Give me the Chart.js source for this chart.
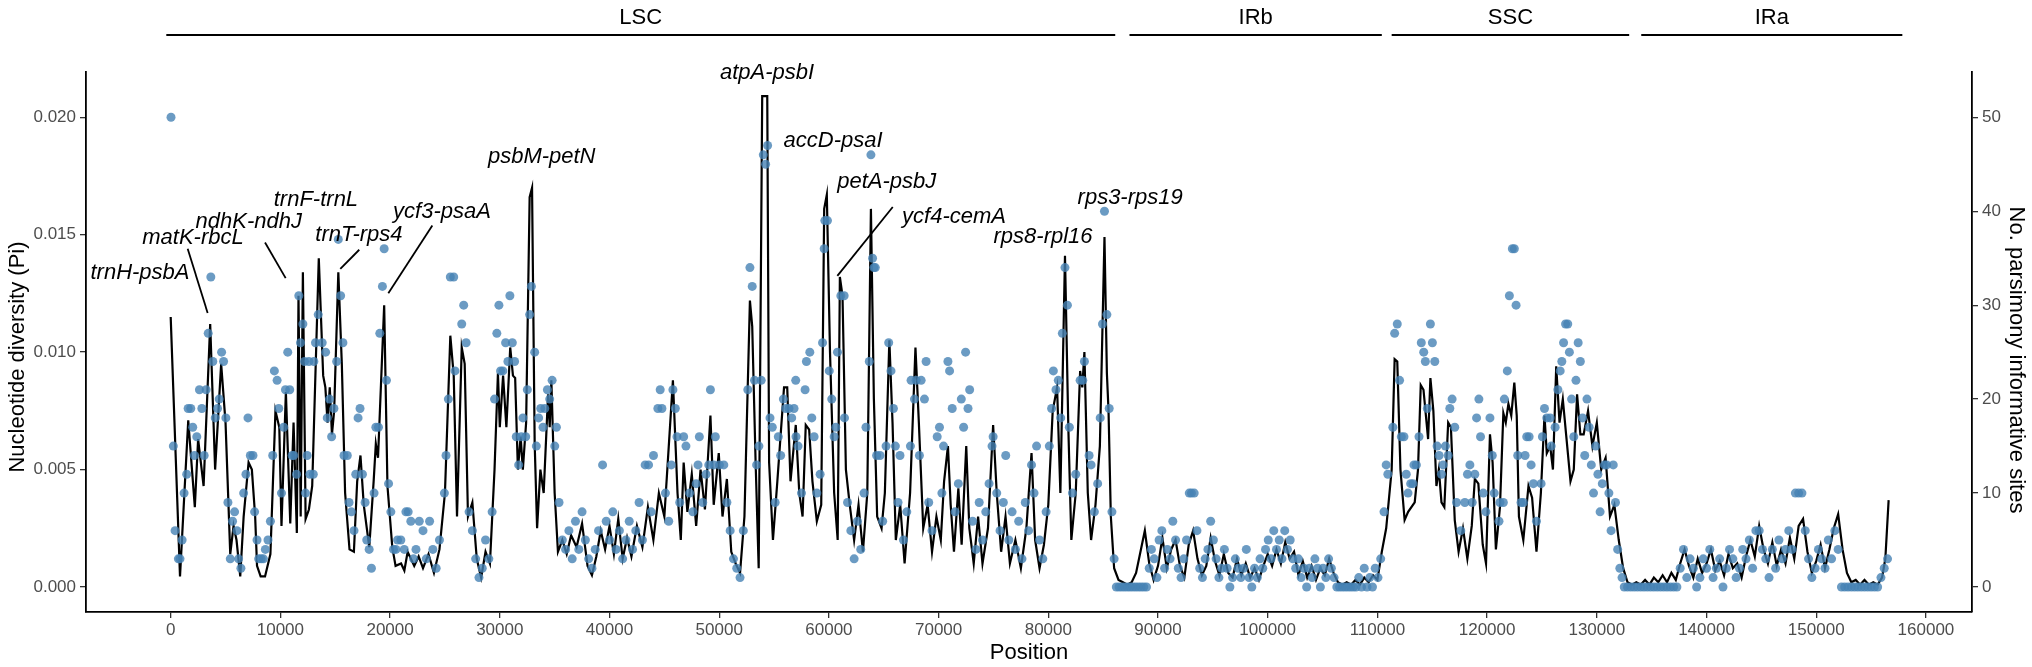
<!DOCTYPE html>
<html>
<head>
<meta charset="utf-8">
<title>Nucleotide diversity</title>
<script src="https://cdn.jsdelivr.net/npm/chart.js@4.4.1/dist/chart.umd.min.js"></script>
<style>
  html, body { margin: 0; padding: 0; background: #fff; }
  #wrap { width: 2032px; height: 667px; }
</style>
</head>
<body>
<div id="wrap"><canvas id="piChart" width="2032" height="667"></canvas></div>
<script>
// =============================================
// DATA: nucleotide diversity (Pi), [position, Pi]
// =============================================
const piLSC = [
  [0,0.0115],[850,0.00045],[1600,0.0071],[2200,0.0034],[2500,0.0063],[3000,0.0043],[3600,0.0112],
  [4050,0.0050],[4600,0.0095],[5000,0.0070],[5430,0.0014],[5730,0.0026],[6000,0.0020],[6340,0.00045],
  [6650,0.0030],[7100,0.0053],[7400,0.0050],[7700,0.0030],[7870,0.0009],[8200,0.00045],[8600,0.00045],
  [9090,0.0014],[9550,0.0075],[9900,0.0068],[10100,0.0026],[10500,0.0083],[10900,0.0027],[11200,0.0070],
  [11500,0.0023],[11650,0.0124],[11850,0.0030],[12050,0.0134],[12300,0.0029],[12600,0.0033],[12900,0.0043],
  [13500,0.0140],[13900,0.0090],[14100,0.0085],[14300,0.0070],[14500,0.0085],[14700,0.0065],[14900,0.0075],
  [15280,0.0134],[15600,0.0095],[15900,0.0040],[16300,0.0016],[16700,0.0015],[17000,0.0045],[17300,0.0056],
  [17600,0.0035],[18100,0.0017],[18500,0.0045],[18700,0.0061],[18900,0.0055],[19460,0.0120],[19760,0.0043],
  [20200,0.0017],[20500,0.0009],[21000,0.0010],[21300,0.0007],[21600,0.0015],[22200,0.0009],[22600,0.0013],
  [23000,0.0008],[23500,0.0014],[24000,0.0006],[24500,0.0016],[25000,0.0040],[25490,0.0107],[25800,0.0090],
  [26100,0.0030],[26530,0.0102],[26800,0.0095],[27100,0.0030],[27500,0.0036],[27900,0.0012],[28300,0.0004],
  [28700,0.0015],[29100,0.0010],[29520,0.0050],[29830,0.0091],[30000,0.0068],[30300,0.0090],[30600,0.0068],
  [30950,0.0102],[31200,0.0090],[31400,0.0089],[31650,0.0050],[31900,0.0064],[32100,0.0050],[32400,0.0070],
  [32720,0.0166],[32940,0.0170],[33180,0.0061],[33400,0.0025],[33700,0.0050],[34000,0.0040],[34400,0.0082],
  [34550,0.0068],[34700,0.0088],[35000,0.0040],[35300,0.0015],[35700,0.0020],[36100,0.0014],[36500,0.0022],
  [37000,0.0017],[37500,0.0027],[38000,0.0009],[38400,0.0005],[38800,0.0013],[39200,0.0024],[39600,0.0016],
  [40000,0.0026],[40400,0.0014],[40800,0.0029],[41200,0.0012],[41600,0.0021],[42000,0.0013],[42500,0.0026],
  [43000,0.0017],[43500,0.0034],[44000,0.0020],[44500,0.0040],[45000,0.0030],[45780,0.0088],[46200,0.0040],
  [46500,0.0020],[46760,0.0053],[47100,0.0032],[47500,0.0048],[47900,0.0026],[48300,0.0050],[48700,0.0033],
  [49200,0.0073],[49500,0.0035],[49960,0.0057],[50300,0.0030],[50700,0.0046],[51100,0.0015],[51500,0.0010],
  [51900,0.0006],[52300,0.0030],[52800,0.0122],[53010,0.0111],[53320,0.0053],[53600,0.0008],[53920,0.0209],
  [54380,0.0209],[54550,0.0053],[54900,0.0020],[55300,0.0045],[55910,0.0085],[56200,0.0085],[56500,0.0045],
  [56980,0.0069],[57300,0.0040],[57600,0.0030],[57890,0.0069],[58200,0.0067],[58500,0.0045],[58900,0.0028],
  [59300,0.0035],[59570,0.0161],[59810,0.0167],[60100,0.0100],[60480,0.0040],[60800,0.0020],[61000,0.0132],
  [61240,0.0124],[61550,0.0050],[61900,0.0035],[62300,0.0020],[62700,0.0035],[63100,0.0015],[63500,0.0040],
  [63830,0.0161],[64100,0.0080],[64400,0.0030],[64800,0.0025],[65100,0.0040],[65510,0.0105],[65800,0.0070],
  [66100,0.0020],[66500,0.0035],[66900,0.0010],[67400,0.0040],[67890,0.0102],[68200,0.0070],[68600,0.0025],
  [69000,0.0035],[69400,0.0015],[69800,0.0030],[70200,0.0020],[70500,0.0045],[70850,0.0060],[71100,0.0035],
  [71400,0.0015],[71800,0.0042],[72100,0.0018],[72520,0.0060],[72800,0.0025],[73200,0.0010],[73600,0.0030],
  [74000,0.0010],[74500,0.0025],[74970,0.0069],[75300,0.0040],[75700,0.0015],[76100,0.0030],[76500,0.0010],
  [77000,0.0020],[77500,0.0008],[78000,0.0025],[78470,0.0057],[78800,0.0020],[79200,0.0008],[79600,0.0018],
  [80000,0.0035],[80400,0.0075],[80800,0.0085],[81100,0.0040],[81520,0.0141],[81830,0.0067],[82100,0.0020],
  [82500,0.0040],[82900,0.0092],[83100,0.0085],[83290,0.0100],[83600,0.0040],[83900,0.0020],[84300,0.0035],
  [84700,0.0060],[85120,0.0149],[85340,0.0091],[85490,0.0075],[85700,0.0030],[86000,0.0008]
];
const piIRb = [
  [86400,0.0003],[86800,0.0002],[87200,0.0001],[87600,0.0002],[88000,0.0006],[88400,0.0015],[88800,0.0024],
  [89200,0.0010],[89600,0.0003],[90000,0.0009],[90400,0.0021],[90800,0.0008],[91200,0.0016],[91600,0.0020],
  [92000,0.0009],[92400,0.0004],[92800,0.0018],[93200,0.0024],[93600,0.0012],[94000,0.0005],[94400,0.0009],
  [94800,0.0021],[95200,0.0011],[95600,0.0005],[96000,0.0014],[96400,0.0006],[96800,0.0004],[97200,0.0012],
  [97600,0.0005],[98000,0.0010],[98400,0.0004],[98800,0.0008],[99200,0.0003],[99600,0.0009],[100000,0.0014],
  [100400,0.0009],[100800,0.0016],[101200,0.0010],[101600,0.0019],[102000,0.0012],[102400,0.0015],[102800,0.0005],
  [103200,0.0011],[103600,0.0004],[104000,0.0009],[104400,0.0003],[104800,0.0008],[105200,0.0005],[105600,0.0012],
  [106000,0.0006],[106400,0.0002],[106800,0.0001],[107200,0.0002],[107600,0.0001],[108000,0.0003],[108400,0.0001],
  [108800,0.0004],[109200,0.0002],[109600,0.0005],[110000,0.0003],[110400,0.0015]
];
const piSSC = [
  [110800,0.0025],[111300,0.0050],[111570,0.0097],[111810,0.0096],[112100,0.0050],[112480,0.00285],[112800,0.0032],
  [113400,0.0036],[113700,0.0050],[113950,0.0086],[114200,0.0084],[114620,0.0063],[114830,0.0089],[115100,0.0075],
  [115380,0.0043],[115600,0.0050],[115840,0.0036],[116100,0.0034],[116450,0.0070],[116700,0.0068],[117050,0.00285],
  [117400,0.0015],[117800,0.0025],[118200,0.0012],[118600,0.0026],[118880,0.0046],[119200,0.0044],[119600,0.0018],
  [119900,0.0010],[120260,0.0065],[120500,0.0053],[120800,0.0016],[121170,0.0034],[121480,0.0074],[121700,0.0070],
  [121940,0.0078],[122200,0.0073],[122480,0.0087],[122700,0.0073],[122900,0.0030],[123300,0.0020],[123770,0.0043],
  [124100,0.0038],[124500,0.0015],[124900,0.0040],[125230,0.0073],[125440,0.0057],[125750,0.0060],[126000,0.0050],
  [126300,0.0094],[126600,0.0070],[126900,0.0080],[127200,0.0065],[127600,0.0045],[127900,0.0050],[128200,0.0082],
  [128500,0.0065],[128800,0.0065],[129200,0.0075],[129600,0.0060],[130000,0.0070],[130400,0.0050],[130800,0.0055],
  [131200,0.0030],[131600,0.0035],[132000,0.0020],[132400,0.0008],[132800,0.0002]
];
const piIRa = [
  [133200,0.0001],[133600,0.0002],[134000,0.0001],[134400,0.0003],[134800,0.0001],[135200,0.0004],[135600,0.0002],
  [136000,0.0005],[136400,0.0002],[136800,0.0006],[137200,0.0003],[137600,0.0010],[138000,0.0016],[138400,0.0009],
  [138800,0.0004],[139200,0.0012],[139600,0.0006],[140000,0.0010],[140400,0.0016],[140800,0.0007],[141200,0.0011],
  [141600,0.0005],[142000,0.0014],[142400,0.0008],[142800,0.0010],[143200,0.0004],[143600,0.0013],[144000,0.0020],
  [144400,0.0013],[144800,0.0026],[145200,0.0016],[145600,0.0010],[146000,0.0019],[146400,0.0009],[146800,0.0016],
  [147200,0.0010],[147600,0.0021],[148000,0.0012],[148400,0.0026],[148800,0.0029],[149200,0.0015],[149600,0.0006],
  [150000,0.0011],[150400,0.0018],[150800,0.0008],[151200,0.0016],[151600,0.0025],[152000,0.0031],[152400,0.0016],
  [152800,0.0006],[153200,0.0002],[153600,0.0003],[154000,0.0001],[154400,0.0003],[154800,0.0001],[155200,0.0002],
  [155600,0.0001],[156000,0.0004],[156300,0.0012],[156600,0.0037]
];

// =============================================
// DATA: parsimony informative sites, [position, count]
// =============================================
const pisLSC = [
  [30,50],[240,15],[400,6],[700,3],[850,3],[1040,5],[1220,10],[1460,12],[1590,19],[1830,19],[2010,17],[2160,14],
  [2380,16],[2620,21],[2840,19],[3050,14],[3230,21],[3420,27],[3660,33],[3840,24],[4060,18],[4270,19],[4420,20],
  [4640,25],[4820,24],[5030,18],[5215,9],[5430,3],[5640,7],[5825,8],[6040,6],[6190,3],[6400,2],[6650,10],[6860,12],
  [7045,18],[7260,14],[7500,14],[7650,8],[7870,5],[8020,3],[8250,3],[8450,3],[8630,4],[8870,5],[9090,7],[9300,14],
  [9450,23],[9700,22],[9850,19],[10100,10],[10300,17],[10460,21],[10670,25],[10850,21],[11070,14],[11220,14],
  [11470,12],[11680,31],[11830,26],[12050,28],[12200,24],[12290,10],[12440,14],[12600,24],[12690,12],[13000,12],
  [13050,24],[13200,26],[13450,29],[13810,26],[14120,25],[14270,18],[14480,20],[14670,16],[14880,19],[15130,24],
  [15280,37],[15490,31],[15700,26],[15800,14],[16100,14],[16260,9],[16470,8],[16710,6],[16870,12],[17080,18],
  [17260,19],[17480,12],[17720,9],[17870,5],[18090,4],[18300,2],[18540,10],[18700,17],[18940,17],[19060,27],
  [19300,32],[19460,36],[19670,22],[19860,11],[20070,8],[20310,4],[20530,4],[20680,5],[20980,5],[21290,4],
  [21440,8],[21650,8],[21890,7],[22140,3],[22360,4],[22660,7],[23000,6],[23300,3],[23600,7],[23900,4],[24200,2],
  [24500,5],[24950,10],[25100,14],[25310,20],[25490,33],[25800,33],[25920,23],[26530,28],[26710,30],[26930,26],
  [27200,8],[27500,6],[27800,3],[28100,1],[28400,2],[28700,5],[29000,3],[29300,8],[29520,20],[29730,27],[29920,30],
  [30070,23],[30280,23],[30530,26],[30740,24],[30920,31],[31140,26],[31350,24],[31500,16],[31720,13],[31960,16],
  [32110,18],[32360,16],[32510,21],[32720,29],[32880,32],[33180,25],[33330,15],[33540,18],[33730,19],[33940,17],
  [34100,19],[34340,21],[34550,20],[34770,22],[35010,15],[35160,17],[35400,9],[35700,5],[36000,4],[36300,6],
  [36600,3],[36900,7],[37200,4],[37500,8],[37800,5],[38100,3],[38400,2],[38700,4],[39000,6],[39370,13],[39700,7],
  [40000,5],[40300,8],[40600,4],[40900,6],[41200,3],[41500,5],[41800,7],[42100,4],[42400,6],[42700,9],[43000,5],
  [43250,13],[43560,13],[43800,8],[44010,14],[44410,19],[44620,21],[44780,19],[45100,10],[45400,7],[45630,13],
  [45780,21],[46000,19],[46150,16],[46400,9],[46760,16],[46970,15],[47300,10],[47600,8],[47900,11],[48070,13],
  [48190,16],[48500,9],[48800,12],[49050,13],[49200,21],[49500,13],[49650,16],[50020,13],[50420,13],[50700,9],
  [51000,6],[51300,3],[51600,2],[51900,1],[52200,6],[52610,21],[52800,34],[53010,32],[53220,22],[53410,13],
  [53620,15],[53830,22],[54020,46],[54230,45],[54410,47],[54630,18],[54840,17],[55100,9],[55390,16],[55600,14],
  [55850,20],[56060,19],[56360,19],[56610,18],[56820,19],[56975,22],[57000,16],[57190,15],[57500,10],[57830,21],
  [57950,24],[58260,25],[58440,18],[58650,16],[58900,10],[59200,12],[59420,26],[59570,36],[59630,39],[59870,39],
  [60030,23],[60260,20],[60480,16],[60630,17],[60780,25],[61090,31],[61390,31],[61420,18],[61700,9],[62000,6],
  [62300,3],[62600,7],[62900,4],[63200,10],[63380,17],[63680,24],[63830,46],[63980,35],[64100,34],[64230,34],
  [64350,14],[64660,14],[64900,7],[65210,15],[65450,26],[65660,23],[65880,19],[66060,15],[66300,9],[66480,14],
  [66800,5],[67100,8],[67430,15],[67490,22],[67800,20],[67950,22],[68250,14],[68410,22],[68710,20],[68860,24],
  [69100,9],[69400,6],[69870,16],[70080,17],[70300,10],[70450,15],[70850,24],[71000,23],[71240,19],[71500,8],
  [71800,11],[72070,20],[72280,17],[72460,25],[72680,19],[72830,21],[73100,7],[73400,4],[73700,9],[74000,5],
  [74300,8],[74600,11],[74870,15],[74970,16],[75300,10],[75600,6],[75900,9],[76120,14],[76400,5],[76700,8],
  [77000,4],[77300,7],[77600,3],[77900,9],[78200,6],[78470,13],[78700,10],[78930,15],[79200,5],[79500,3],[79800,8],
  [80090,15],[80300,19],[80460,23],[80700,21],[80910,22],[81130,18],[81280,27],[81520,34],[81740,30],[81920,17],
  [82200,10],[82500,12],[82900,22],[83140,22],[83290,24],[83720,14],[83900,13],[84200,8],[84500,11],[84730,18],
  [84940,28],[85120,40],[85340,29],[85550,19],[85800,8],[86000,3]
];
const pisIRb = [
  [86200,0],[86450,0],[86700,0],[86950,0],[87200,0],[87450,0],[87700,0],[87950,0],[88200,0],[88450,0],[88700,0],
  [88950,0],[89200,2],[89400,4],[89650,3],[89900,1],[90100,5],[90350,6],[90600,2],[90850,4],[91100,3],[91350,7],
  [91600,5],[91850,2],[92100,1],[92350,3],[92600,5],[92850,10],[93050,10],[93300,10],[93550,6],[93800,2],[94050,1],
  [94300,3],[94550,4],[94800,7],[95050,5],[95300,3],[95550,1],[95800,2],[96050,4],[96300,2],[96550,0],[96800,1],
  [97050,3],[97300,2],[97550,1],[97800,2],[98050,4],[98300,1],[98550,0],[98800,2],[99050,1],[99300,3],[99550,2],
  [99800,4],[100050,5],[100300,3],[100550,6],[100800,4],[101050,5],[101300,3],[101550,6],[101800,4],[102050,5],
  [102300,3],[102550,2],[102800,3],[103050,1],[103300,2],[103550,0],[103800,2],[104050,1],[104300,3],[104550,2],
  [104800,0],[105050,2],[105300,1],[105550,3],[105800,2],[106050,1],[106300,0],[106550,0],[106800,0],[107050,0],
  [107300,0],[107550,0],[107800,0],[108050,0],[108300,1],[108550,0],[108800,2],[109050,0],[109300,1],[109550,0],
  [109800,2],[110050,1],[110300,3]
];
const pisSSC = [
  [110600,8],[110800,13],[110950,12],[111410,17],[111570,27],[111810,28],[112020,22],[112180,16],[112420,16],
  [112630,12],[112790,10],[113030,11],[113240,11],[113330,13],[113550,13],[113790,16],[114000,26],[114220,25],
  [114370,24],[114550,19],[114830,28],[115010,26],[115230,24],[115440,15],[115620,14],[115840,12],[115990,13],
  [116200,15],[116450,14],[116600,19],[116810,20],[117050,17],[117210,9],[117600,6],[117970,9],[118210,12],
  [118430,13],[118640,9],[118880,12],[119040,18],[119250,20],[119400,16],[119650,10],[119890,8],[120260,18],
  [120470,14],[120650,10],[121080,7],[121170,9],[121480,9],[121570,20],[121840,23],[122030,31],[122300,36],
  [122480,36],[122640,30],[122790,14],[123090,9],[123310,9],[123460,14],[123610,16],[123830,16],[124010,13],
  [124220,11],[124500,7],[124920,11],[125040,16],[125230,19],[125440,18],[125750,18],[125840,15],[126200,17],
  [126450,21],[126660,23],[126810,24],[126970,26],[127150,28],[127350,28],[127500,25],[127700,20],[127900,16],
  [128100,22],[128300,26],[128500,24],[128700,18],[128900,14],[129100,20],[129300,17],[129500,13],[129700,10],
  [129900,15],[130100,12],[130300,8],[130500,11],[130700,13],[130900,13],[131100,10],[131300,6],[131500,13],
  [131700,9],[131900,4],[132100,2],[132300,1],[132500,0]
];
const pisIRa = [
  [132800,0],[133100,0],[133400,0],[133700,0],[134000,0],[134300,0],[134600,0],[134900,0],[135200,0],[135500,0],
  [135800,0],[136100,0],[136400,0],[136700,0],[137000,0],[137300,0],[137600,2],[137900,4],[138200,1],[138500,3],
  [138800,2],[139100,0],[139400,1],[139700,3],[140000,2],[140300,4],[140600,1],[140900,2],[141200,3],[141500,0],
  [141800,2],[142100,4],[142400,3],[142700,1],[143000,2],[143300,4],[143600,3],[143900,5],[144200,2],[144500,6],
  [144800,6],[145100,4],[145400,3],[145700,1],[146000,4],[146300,2],[146600,5],[146900,3],[147200,4],[147500,6],
  [147800,4],[148100,10],[148400,10],[148700,10],[149000,6],[149300,3],[149600,1],[149900,2],[150200,4],[150500,3],
  [150800,2],[151100,5],[151400,3],[151700,6],[152000,4],[152300,0],[152600,0],[152900,0],[153200,0],[153500,0],
  [153800,0],[154100,0],[154400,0],[154700,0],[155000,0],[155300,0],[155600,0],[155900,1],[156200,2],[156500,3]
];

// =============================================
// AXIS TICKS, REGIONS AND LABEL TEXT
// =============================================
const xTicks = [0,10000,20000,30000,40000,50000,60000,70000,80000,90000,100000,110000,120000,130000,140000,150000,160000];
const piTicks = [0, 0.005, 0.010, 0.015, 0.020];
const pisTicks = [0, 10, 20, 30, 40, 50];

const regionNames = ['LSC', 'IRb', 'SSC', 'IRa'];
const regionStart = [-400, 87400, 111300, 134050];
const regionEnd = [86100, 110400, 132950, 157850];

const geneNames = [
  'trnH-psbA', 'matK-rbcL', 'ndhK-ndhJ', 'trnF-trnL', 'trnT-rps4', 'ycf3-psaA', 'psbM-petN',
  'atpA-psbI', 'accD-psaI', 'petA-psbJ', 'ycf4-cemA', 'rps8-rpl16', 'rps3-rps19'
];

// where each label sits (in axis units) and its leader segment, if any
const geneLayout = [
  { at: [-2800, 0.01338] },
  { at: [2030, 0.01487], leader: [1550, 0.01440, 3370, 0.01167] },
  { at: [7120, 0.01555], leader: [8600, 0.01467, 10480, 0.01315] },
  { at: [13240, 0.01649] },
  { at: [17160, 0.01500], leader: [17190, 0.01436, 15460, 0.01355] },
  { at: [24730, 0.01598], leader: [23850, 0.01539, 19840, 0.01251] },
  { at: [33820, 0.01832] },
  { at: [54360, 0.02188] },
  { at: [60380, 0.01900] },
  { at: [65270, 0.01726] },
  { at: [71410, 0.01576], leader: [65820, 0.01618, 60770, 0.01325] },
  { at: [79520, 0.01491] },
  { at: [87460, 0.01657] }
];

const FONT = '"Liberation Sans", Arial, Helvetica, sans-serif';
const toXY = (pairs) => pairs.map(p => ({ x: p[0], y: p[1] }));

// =============================================
// PLUGIN: region bars, gene labels, axis titles
// =============================================
const annotatePlugin = {
  id: 'annotate',
  afterDraw(chart) {
    const { ctx, chartArea } = chart;
    const x = chart.scales.x;
    const y = chart.scales.y;
    ctx.save();

    // region bars on top
    ctx.strokeStyle = '#000';
    ctx.lineWidth = 2;
    ctx.fillStyle = '#000';
    ctx.font = '22px ' + FONT;
    ctx.textAlign = 'center';
    ctx.textBaseline = 'middle';
    regionNames.forEach((name, i) => {
      const x0 = x.getPixelForValue(regionStart[i]);
      const x1 = x.getPixelForValue(regionEnd[i]);
      ctx.beginPath();
      ctx.moveTo(x0, 35);
      ctx.lineTo(x1, 35);
      ctx.stroke();
      ctx.fillText(name, (x0 + x1) / 2, 18);
    });

    // gene labels + leader lines
    ctx.font = 'italic 22px ' + FONT;
    ctx.lineWidth = 1.8;
    geneNames.forEach((name, i) => {
      const g = geneLayout[i];
      ctx.fillText(name, x.getPixelForValue(g.at[0]), y.getPixelForValue(g.at[1]));
      if (g.leader) {
        ctx.beginPath();
        ctx.moveTo(x.getPixelForValue(g.leader[0]), y.getPixelForValue(g.leader[1]));
        ctx.lineTo(x.getPixelForValue(g.leader[2]), y.getPixelForValue(g.leader[3]));
        ctx.stroke();
      }
    });

    // axis titles
    ctx.font = '22px ' + FONT;
    ctx.fillText('Position', (chartArea.left + chartArea.right) / 2, 653);

    ctx.save();
    ctx.translate(18, 357);
    ctx.rotate(-Math.PI / 2);
    ctx.fillText('Nucleotide diversity (Pi)', 0, 0);
    ctx.restore();

    ctx.save();
    ctx.translate(2016, 360);
    ctx.rotate(Math.PI / 2);
    ctx.fillText('No. parsimony informative sites', 0, 0);
    ctx.restore();

    ctx.restore();
  }
};

// =============================================
// CHART
// =============================================
const tickFont = { family: FONT, size: 17 };
const axisGrid = { display: true, drawOnChartArea: false, drawTicks: true, tickLength: 6, color: '#333', lineWidth: 1.3 };
const axisBorder = { display: true, color: '#000', width: 1.8 };

new Chart(document.getElementById('piChart'), {
  type: 'line',
  data: {
    datasets: [
      {
        type: 'scatter',
        label: 'Parsimony informative sites',
        data: toXY(pisLSC.concat(pisIRb, pisSSC, pisIRa)),
        yAxisID: 'y2',
        backgroundColor: 'rgba(70,130,180,0.8)',
        borderWidth: 0,
        pointRadius: 4.5,
        order: 0
      },
      {
        type: 'line',
        label: 'Pi',
        data: toXY(piLSC.concat(piIRb, piSSC, piIRa)),
        yAxisID: 'y',
        borderColor: '#000',
        borderWidth: 2.2,
        pointRadius: 0,
        tension: 0,
        fill: false,
        order: 1
      }
    ]
  },
  options: {
    responsive: false,
    animation: false,
    devicePixelRatio: 1,
    layout: { padding: { top: 72, left: 0, right: 0, bottom: 0 } },
    plugins: { legend: { display: false }, tooltip: { enabled: false } },
    scales: {
      x: {
        type: 'linear',
        min: -7720,
        max: 164200,
        grid: axisGrid,
        border: axisBorder,
        ticks: { font: tickFont, color: '#4d4d4d', padding: 2, autoSkip: false, maxRotation: 0, callback: v => String(v) },
        afterBuildTicks: s => { s.ticks = xTicks.map(v => ({ value: v })); },
        afterFit: s => { s.height = 55; }
      },
      y: {
        position: 'left',
        min: -0.001065,
        max: 0.021929,
        grid: axisGrid,
        border: axisBorder,
        ticks: { font: tickFont, color: '#4d4d4d', padding: 4, callback: v => v.toFixed(3) },
        afterBuildTicks: s => { s.ticks = piTicks.map(v => ({ value: v })); },
        afterFit: s => { s.width = 86; }
      },
      y2: {
        position: 'right',
        min: -2.66,
        max: 54.82,
        grid: axisGrid,
        border: axisBorder,
        ticks: { font: tickFont, color: '#4d4d4d', padding: 4, callback: v => String(v) },
        afterBuildTicks: s => { s.ticks = pisTicks.map(v => ({ value: v })); },
        afterFit: s => { s.width = 60; }
      }
    }
  },
  plugins: [annotatePlugin]
});
</script>
</body>
</html>
